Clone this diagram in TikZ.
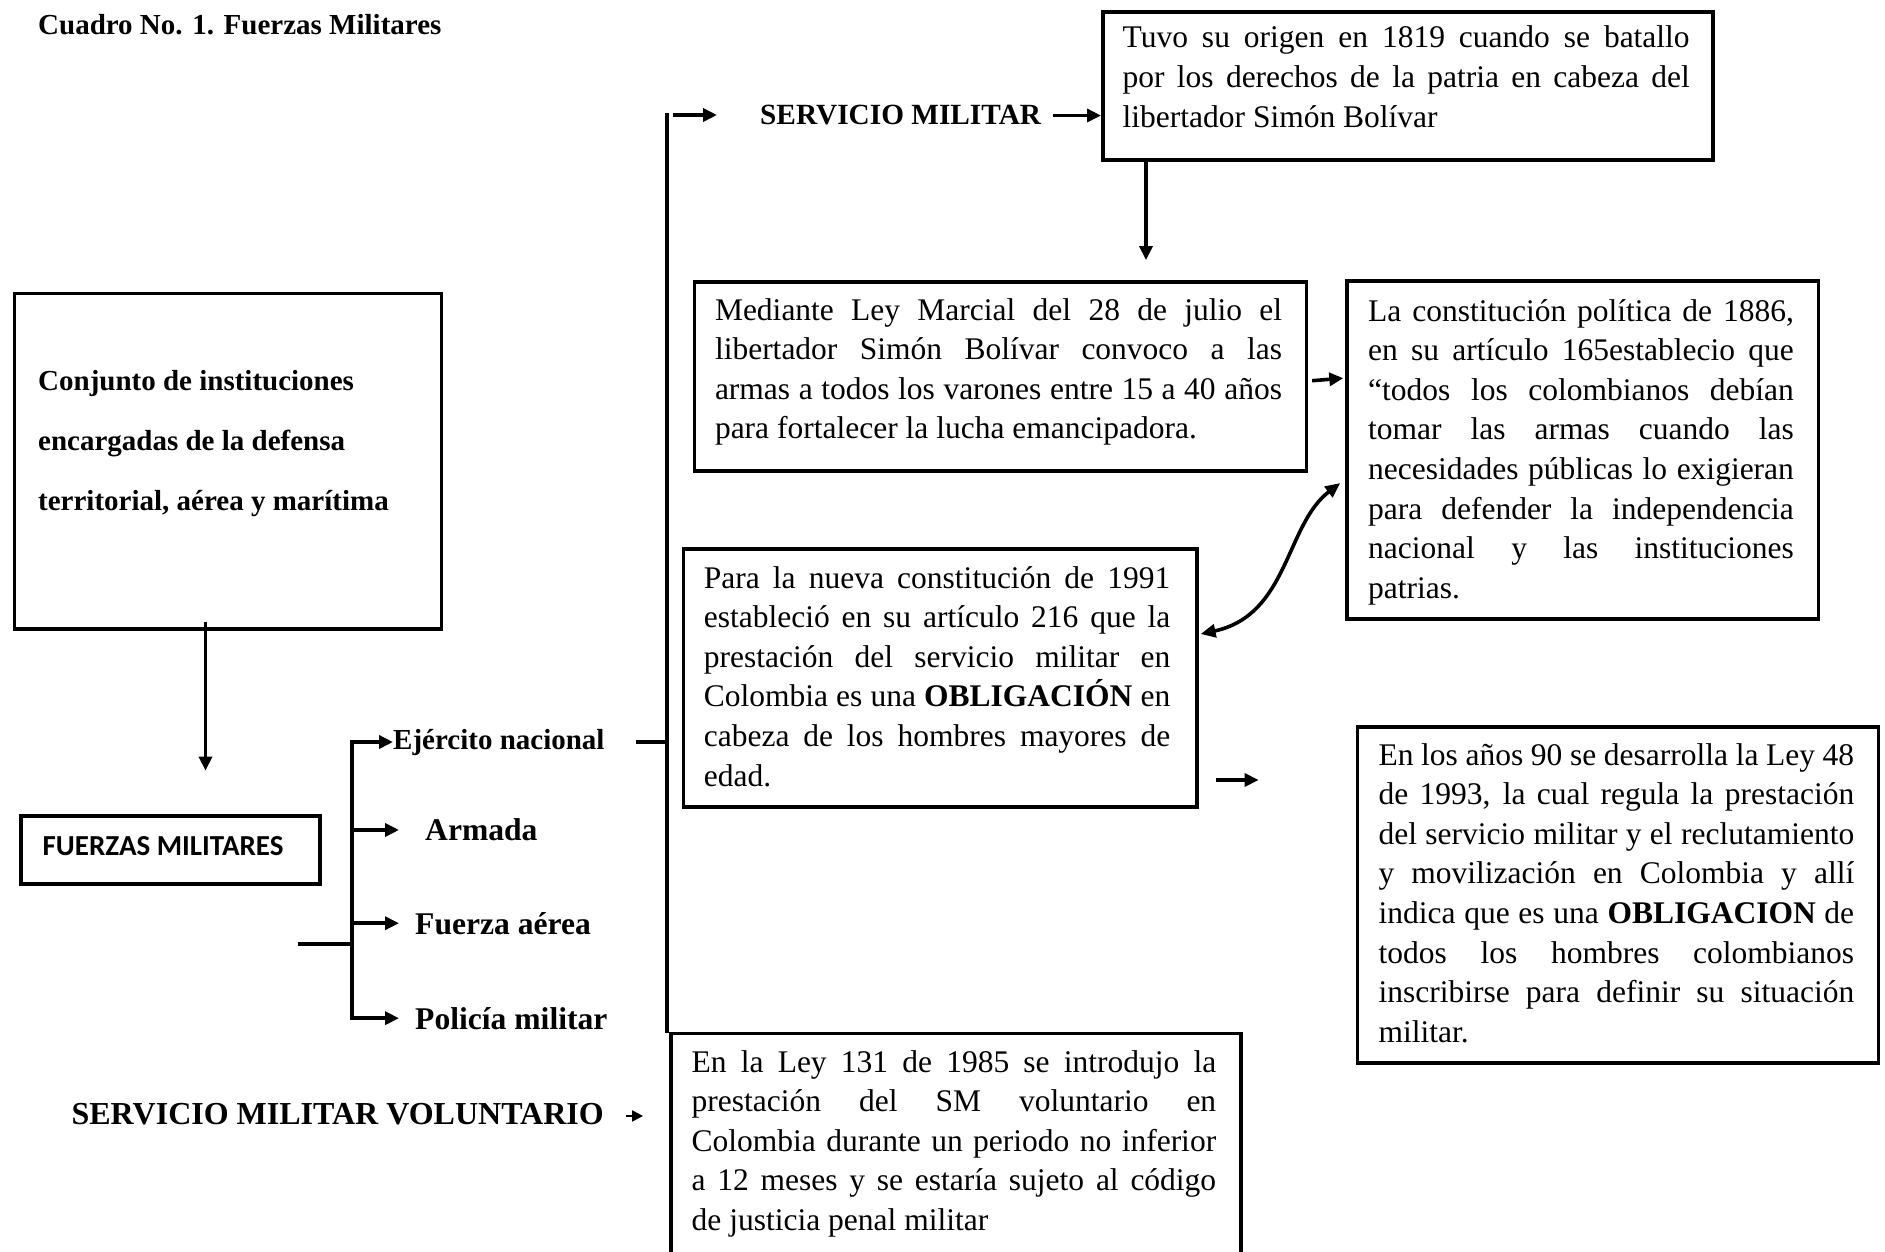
\documentclass[tikz,border=0pt]{standalone}
\usepackage{fontspec}
\setmainfont{Liberation Serif}
\newfontfamily\calibfont{Carlito}
\usetikzlibrary{arrows.meta,calc}
\newcommand{\jl}[1]{\makebox[\linewidth][s]{#1}}
\begin{document}
\begin{tikzpicture}[x=1pt,y=-1pt,
  rbox/.style={draw, line width=3.6pt, inner sep=0pt, anchor=north west},
  body/.style={anchor=base west, inner sep=0pt, font=\fontsize{31.5}{39.6}\selectfont},
  lab/.style={anchor=base west, inner sep=0pt},
  conn/.style={line width=3.6pt, line cap=rect},
  arr/.style={line width=3.6pt, -{Triangle[length=14pt,width=13pt]}},
]
\fill[white] (0,0) rectangle (1885,1252);
\useasboundingbox (0,0) rectangle (1885,1252);

% title
\node[lab, font=\fontsize{29}{35}\selectfont\bfseries] (title) at (38,35) {Cuadro No. 1. Fuerzas Militares};

% boxes
\node[rbox, minimum width=610pt, minimum height=148pt] (tuvo) at (1101,10) {};
\node[body] (tuvoT) at (1122.5,48) {\parbox[t]{567pt}{\jl{Tuvo su origen en 1819 cuando se batallo}\\
\jl{por los derechos de la patria en cabeza del}\\
libertador Simón Bolívar}};

\node[rbox, minimum width=612pt, minimum height=189pt] (med) at (692.5,280) {};
\node[body] (medT) at (714.8,320) {\parbox[t]{567pt}{\jl{Mediante Ley Marcial del 28 de julio el}\\
\jl{libertador Simón Bolívar convoco a las}\\
\jl{armas a todos los varones entre 15 a 40 años}\\
para fortalecer la lucha emancipadora.}};

\node[rbox, minimum width=471.4pt, minimum height=338pt] (lac) at (1345.3,279) {};
\node[body] (lacT) at (1368,321) {\parbox[t]{425.7pt}{\jl{La constitución política de 1886,}\\
\jl{en su artículo 165establecio que}\\
\jl{“todos los colombianos debían}\\
\jl{tomar las armas cuando las}\\
\jl{necesidades públicas lo exigieran}\\
\jl{para defender  la independencia}\\
\jl{nacional y las instituciones}\\
patrias.}};

\node[rbox, minimum width=513.4pt, minimum height=258pt] (para) at (681.6,547) {};
\node[body] (paraT) at (703.6,588) {\parbox[t]{466.5pt}{\jl{Para la nueva constitución de 1991}\\
\jl{estableció en su artículo 216 que la}\\
\jl{prestación del servicio militar en}\\
\jl{Colombia es una \textbf{OBLIGACIÓN} en}\\
\jl{cabeza de los hombres mayores de}\\
edad.}};

\node[rbox, minimum width=521pt, minimum height=336pt] (anos) at (1355.5,725) {};
\node[body] (anosT) at (1378.4,765) {\parbox[t]{475.6pt}{\jl{En los años 90 se desarrolla la Ley 48}\\
\jl{de 1993, la cual regula la prestación}\\
\jl{del servicio militar y el reclutamiento}\\
\jl{y movilización en Colombia y allí}\\
\jl{indica que es una \textbf{OBLIGACION} de}\\
\jl{todos los hombres colombianos}\\
\jl{inscribirse para definir su situación}\\
militar.}};

\node[rbox, minimum width=570pt, minimum height=220pt] (ley) at (669,1031.5) {};
\node[body] (leyT) at (691.5,1072) {\parbox[t]{524.5pt}{\jl{En la Ley 131 de 1985 se introdujo la}\\
\jl{prestación del SM voluntario en}\\
\jl{Colombia durante un periodo no inferior}\\
\jl{a 12 meses y se estaría sujeto al código}\\
de justicia penal militar}};

\node[rbox, minimum width=427pt, minimum height=335.5pt] (conj) at (12.5,291.5) {};
\node[lab] (conjT) at (38,390) {\parbox[t]{400pt}{\fontsize{29}{60}\selectfont\bfseries Conjunto de instituciones\\
encargadas de la defensa\\
territorial, aérea y marítima}};

\node[rbox, minimum width=299pt, minimum height=68pt] (fm) at (19,814) {};
\node[lab, font=\calibfont\fontsize{29}{35}\selectfont\bfseries] (fmT) at (42.4,855) {FUERZAS MILITARES};

% labels
\node[lab, font=\fontsize{29.3}{35}\selectfont\bfseries] (sm) at (760,125) {SERVICIO MILITAR};
\node[lab, font=\fontsize{29}{35}\selectfont\bfseries] (ejer) at (393,749) {Ejército nacional};
\node[lab, font=\fontsize{31.6}{38}\selectfont\bfseries] (arm) at (425,840.8) {Armada};
\node[lab, font=\fontsize{31.6}{38}\selectfont\bfseries] (fa) at (415,934) {Fuerza aérea};
\node[lab, font=\fontsize{31.6}{38}\selectfont\bfseries] (pol) at (415,1029) {Policía militar};
\node[lab, font=\fontsize{32}{38}\selectfont\bfseries] (smv) at (71.4,1124.3) {SERVICIO MILITAR VOLUNTARIO};

% coordinates
\coordinate (vl) at (667,115);
\coordinate (tk) at (352,0);
\coordinate (stem) at (300,943.7);
\coordinate (smin) at ($(sm.west)+(-43,0)$);
\coordinate (cs) at ($(para.north east)+(2,87)$);
\coordinate (ce) at ($(lac.north west)+(-5,204)$);

% connectors
\draw[conn] (vl) -- (vl |- ley.north);
\draw[arr] ($(vl)+(6,0)$) -- (vl -| smin);
\draw[arr] ($(sm.east)+(12,0)$) -- (tuvo.west |- sm.east);
\draw[arr] ($(tuvo.south west)+(45,0)$) -- ++(0,98.5);
\draw[arr] ($(med.east)+(4,4.4)$) -- ($(lac.west |- med.east)+(-2,1.9)$);
\draw[line width=3.6pt, {Triangle[length=15pt,width=13pt]}-{Triangle[length=15pt,width=13pt]}]
  (cs) .. controls ($(cs)+(88,-19)$) and ($(ce)+(-55,42)$) .. (ce);
\draw[arr] ($(para.north east)+(17.5,233)$) -- ++(42.5,0);
\draw[arr] ($(conj.south west)+(193,-9)$) -- ++(0,149);

% tree
\draw[conn] (stem) -- (tk |- stem);
\draw[conn] (tk |- ejer.west) -- (tk |- pol.west);
\draw[arr] (tk |- ejer.west) -- (ejer.west);
\draw[arr] (tk |- arm.west) -- ($(arm.west)+(-26,0)$);
\draw[arr] (tk |- fa.west) -- ($(fa.west)+(-16,0)$);
\draw[arr] (tk |- pol.west) -- ($(pol.west)+(-16,0)$);
\draw[conn] ($(ejer.east)+(33,0)$) -- (vl |- ejer.east);

\draw[line width=2pt, -{Triangle[length=11pt,width=11pt]}] ($(smv.east)+(22,2)$) -- ++(17,0);
\end{tikzpicture}
\end{document}
